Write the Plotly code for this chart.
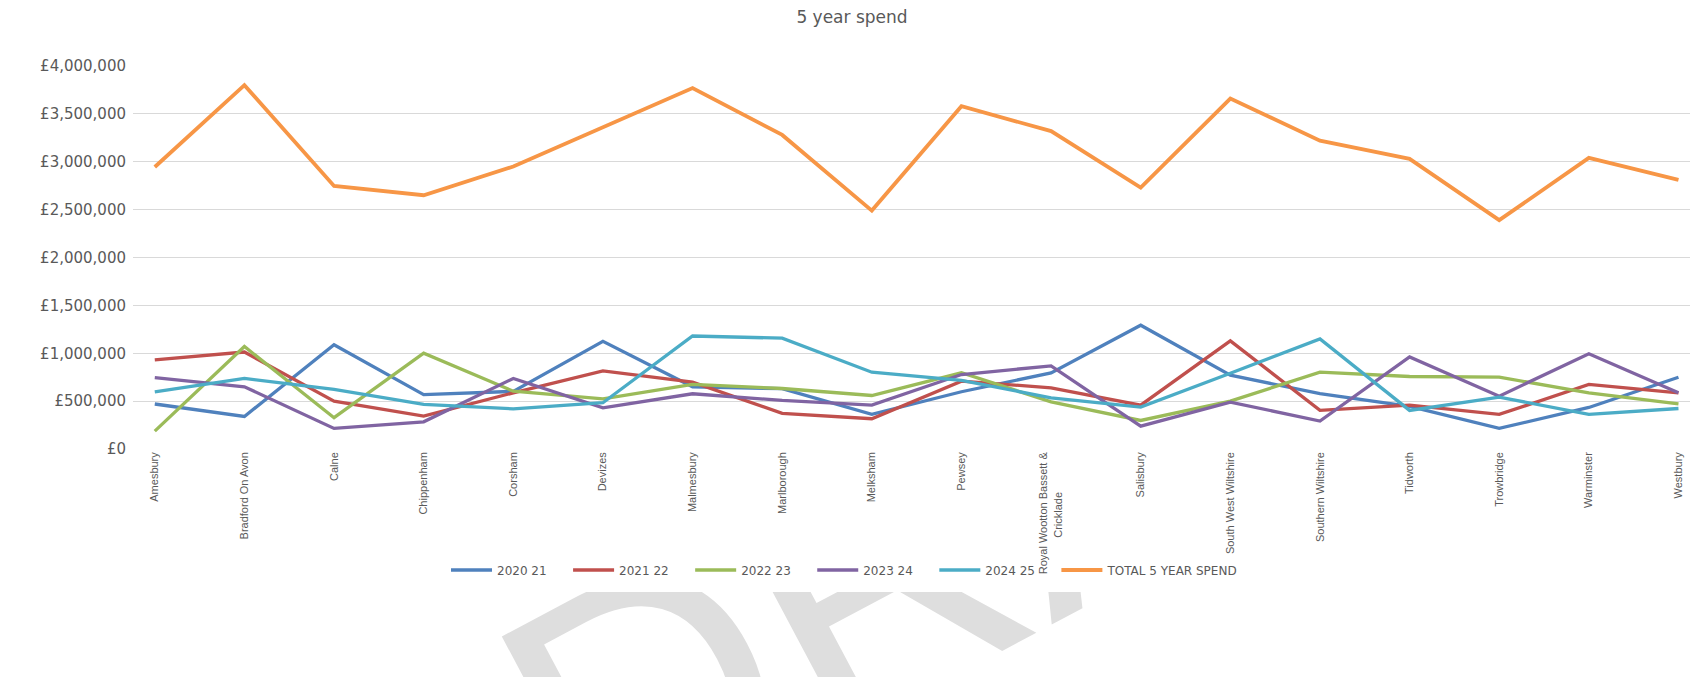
import base64
import plotly.graph_objects as go

# ---------------- data ----------------
categories = ["Amesbury", "Bradford On Avon", "Calne", "Chippenham", "Corsham",
              "Devizes", "Malmesbury", "Marlborough", "Melksham", "Pewsey",
              "Royal Wootton Bassett & Cricklade", "Salisbury", "South West Wiltshire",
              "Southern Wiltshire", "Tidworth", "Trowbridge", "Warminster", "Westbury"]
tick_labels = ["Amesbury", "Bradford On Avon", "Calne", "Chippenham", "Corsham",
               "Devizes", "Malmesbury", "Marlborough", "Melksham", "Pewsey",
               "Royal Wootton Bassett &<br>Cricklade" + "\u00a0" * 13, "Salisbury",
               "South West Wiltshire", "Southern Wiltshire", "Tidworth", "Trowbridge",
               "Warminster", "Westbury"]

spend_2020_21 = [470000, 340000, 1088000, 568000, 602000, 1125000, 650000, 630000, 362000,
                 598000, 795000, 1293000, 771000, 579000, 445000, 215000, 434000, 749000]
spend_2021_22 = [930000, 1013000, 500000, 343000, 587000, 816000, 698000, 372000, 316000,
                 709000, 639000, 458000, 1129000, 403000, 458000, 361000, 674000, 587000]
spend_2022_23 = [187000, 1070000, 327000, 1000000, 604000, 524000, 674000, 632000, 559000,
                 796000, 493000, 298000, 500000, 802000, 757000, 750000, 587000, 472000]
spend_2023_24 = [746000, 650000, 215000, 284000, 737000, 430000, 577000, 507000, 458000,
                 778000, 868000, 239000, 490000, 292000, 962000, 552000, 994000, 587000]
spend_2024_25 = [597000, 737000, 622000, 465000, 420000, 483000, 1180000, 1157000, 802000,
                 716000, 535000, 437000, 792000, 1150000, 403000, 542000, 361000, 423000]
total_5_year = [2945000, 3800000, 2747000, 2650000, 2950000, 3355000, 3770000, 3280000, 2490000,
                3580000, 3320000, 2730000, 3660000, 3220000, 3030000, 2390000, 3040000, 2810000]

series_names = ["2020 21", "2021 22", "2022 23", "2023 24", "2024 25", "TOTAL 5 YEAR SPEND"]
series_values = [spend_2020_21, spend_2021_22, spend_2022_23, spend_2023_24, spend_2024_25, total_5_year]
series_colors = ["#4F81BD", "#C0504D", "#9BBB59", "#8064A2", "#4BACC6", "#F79646"]
series_widths = [3.3, 3.3, 3.3, 3.3, 3.3, 3.8]

y_ticks = [0, 500000, 1000000, 1500000, 2000000, 2500000, 3000000, 3500000, 4000000]
y_tick_text = ["£{:,}".format(v) for v in y_ticks]

# ---------------- figure ----------------
W, H = 1698, 677
ML, MR, MT, MB = 125, 0, 58, 236
PW, PH = W - ML - MR, H - MT - MB

fig = go.Figure()
x_idx = list(range(len(categories)))
pad = "\u00a0" * 4 + "\u200a"
for name, vals, col, lw in zip(series_names, series_values, series_colors, series_widths):
    fig.add_trace(go.Scatter(x=x_idx, y=vals, name=name + pad, mode="lines",
                             line=dict(color=col, width=lw),
                             customdata=categories,
                             hovertemplate="%{customdata}<br>£%{y:,}<extra>" + name + "</extra>"))

# faint "DRAFT" watermark seen below the chart
svg = (
    "<svg xmlns='http://www.w3.org/2000/svg' width='1698' height='677' viewBox='0 0 1698 677'>"
    "<defs><clipPath id='c'><rect x='0' y='584' width='1698' height='93'/></clipPath></defs>"
    "<g clip-path='url(#c)'>"
    "<text x='584' y='861' transform='rotate(-28 584 861)' font-family='Liberation Sans' "
    "font-size='360' fill='#dedede'>DRAFT</text></g></svg>"
)
src = "data:image/svg+xml;base64," + base64.b64encode(svg.encode()).decode()
fig.add_layout_image(dict(source=src, xref="paper", yref="paper",
                          x=-ML / PW, y=1 + MT / PH, sizex=W / PW, sizey=H / PH,
                          xanchor="left", yanchor="top", sizing="stretch", layer="below"))

fig.update_layout(
    width=W, height=H,
    margin=dict(l=ML, r=MR, t=MT, b=MB, pad=0, autoexpand=False),
    paper_bgcolor="white", plot_bgcolor="rgba(0,0,0,0)",
    font=dict(family="DejaVu Sans", color="#595959", size=11),
    title=dict(text="5 year spend", x=844 / W, xanchor="center", y=1 - 3 / H, yanchor="top",
               font=dict(family="DejaVu Sans", size=17, color="#595959")),
    showlegend=True,
    legend=dict(orientation="h", x=(438 - ML) / PW, xanchor="left",
                y=-(562 - MT - PH) / PH, yanchor="middle",
                font=dict(family="DejaVu Sans", size=12, color="#595959"),
                itemwidth=41, bgcolor="rgba(0,0,0,0)", tracegroupgap=0),
    hovermode="closest",
)
fig.update_xaxes(range=[-0.243, 17.307], tickmode="array", tickvals=x_idx, ticktext=tick_labels,
                 tickangle=-90, showgrid=False, zeroline=False, showline=False, ticks="",
                 automargin=False,
                 tickfont=dict(family="Liberation Sans", size=11, color="#595959"),
                 fixedrange=True)
fig.update_yaxes(range=[0, 4000000], tickmode="array", tickvals=y_ticks, ticktext=y_tick_text,
                 showgrid=True, gridcolor="#D9D9D9", gridwidth=1,
                 zeroline=False, showline=False, ticks="", ticklabelstandoff=6, automargin=False,
                 tickfont=dict(family="DejaVu Sans", size=15, color="#595959"),
                 fixedrange=True)

fig.write_html("out.html")
